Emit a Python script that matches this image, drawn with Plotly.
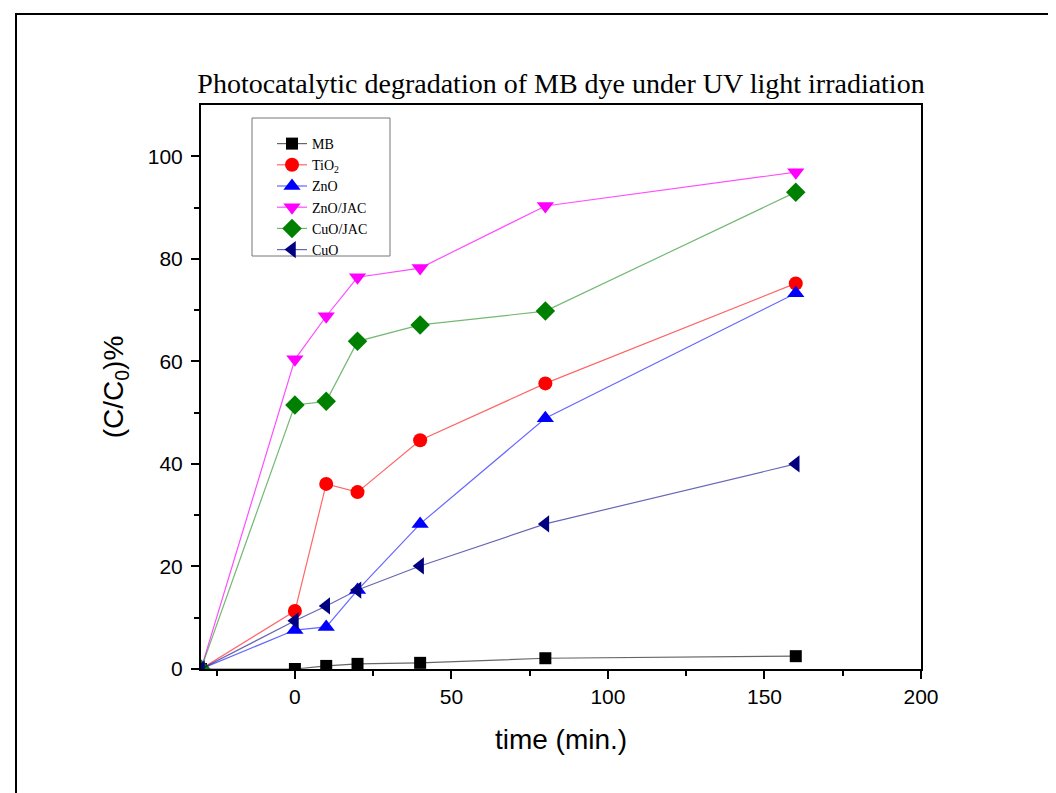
import plotly.graph_objects as go

time = [-30, 0, 10, 20, 40, 80, 160]
mb = [0, 0, 0.6, 1.0, 1.2, 2.1, 2.5]
tio2 = [0, 11.3, 36.1, 34.5, 44.6, 55.7, 75.2]
zno = [0, 7.6, 8.2, 15.4, 28.3, 48.9, 73.3]
zno_jac = [0, 60.4, 68.8, 76.4, 78.2, 90.3, 96.9]
cuo_jac = [0, 51.5, 52.2, 63.9, 67.1, 69.8, 93.0]
cuo = [0, 9.4, 12.3, 15.4, 20.1, 28.3, 40.0]

series = [
    ("MB", mb, "black", "rgba(0,0,0,0.6)", "square", 12),
    ("TiO<sub>2</sub>", tio2, "red", "rgba(255,0,0,0.6)", "circle", 14),
    ("ZnO", zno, "blue", "rgba(0,0,255,0.6)", "triangle-up", 15),
    ("ZnO/JAC", zno_jac, "magenta", "rgba(255,0,255,0.7)", "triangle-down", 15),
    ("CuO/JAC", cuo_jac, "green", "rgba(0,128,0,0.55)", "diamond", 15),
    ("CuO", cuo, "navy", "rgba(0,0,128,0.6)", "triangle-left", 15),
]

fig = go.Figure()
for name, ys, mc, lc, sym, sz in series:
    fig.add_trace(go.Scatter(
        x=time, y=ys, name=name, mode="lines+markers",
        line=dict(color=lc, width=1.2),
        marker=dict(color=mc, symbol=sym, size=sz, line=dict(width=0)),
    ))

# page pixel geometry (the plot div sits 8px in from the page corner)
OFF = 8
W, H = 1056 - OFF, 793 - OFF
L, R, T, B = 201, 921, 105, 669
px = lambda x: (x - L) / (R - L)
py = lambda y: (B - y) / (B - T)

fig.update_layout(
    width=W, height=H,
    margin=dict(l=L - OFF, r=W - (R - OFF), t=T - OFF, b=H - (B - OFF)),
    plot_bgcolor="white", paper_bgcolor="white",
    title=dict(text="Photocatalytic degradation of MB dye under UV light irradiation",
               x=0.5, xref="paper", xanchor="center", y=1 - (83 - OFF) / H, yanchor="middle",
               font=dict(family="Liberation Serif", size=28, color="black")),
    showlegend=True,
    legend=dict(x=px(272), y=py(128), xanchor="left", yanchor="top",
                bgcolor="rgba(0,0,0,0)", borderwidth=0,
                font=dict(family="Liberation Serif", size=14, color="black"),
                tracegroupgap=0, itemwidth=30),
    font=dict(family="Liberation Sans", color="black"),
)
fig.update_xaxes(
    range=[-30, 200], tickvals=[0, 50, 100, 150, 200],
    ticks="outside", ticklen=8, tickwidth=2, tickcolor="black",
    minor=dict(tickvals=[-25, 25, 75, 125, 175], ticks="outside", ticklen=5, tickwidth=2, tickcolor="black"),
    showline=True, linecolor="black", linewidth=2, mirror=True,
    showgrid=False, zeroline=False,
    tickfont=dict(family="Liberation Sans", size=21),
    title=dict(text="time (min.)", font=dict(family="Liberation Sans", size=28), standoff=22),
)
fig.update_yaxes(
    range=[0, 110], tickvals=[0, 20, 40, 60, 80, 100],
    ticks="outside", ticklen=8, tickwidth=2, tickcolor="black",
    minor=dict(tickvals=[10, 30, 50, 70, 90], ticks="outside", ticklen=5, tickwidth=2, tickcolor="black"),
    showline=True, linecolor="black", linewidth=2, mirror=True,
    showgrid=False, zeroline=False,
    tickfont=dict(family="Liberation Sans", size=21),
    ticklabelstandoff=4,
    title=dict(text="(C/C<sub>0</sub>)%", font=dict(family="Liberation Sans", size=28), standoff=16),
)

# legend frame
fig.add_shape(type="rect", xref="paper", yref="paper", x0=px(252), x1=px(390), y0=py(256), y1=py(118),
              line=dict(color="#777", width=1), fillcolor="white", layer="above")
# outer frame (top and left edges)
fig.add_shape(type="line", xref="paper", yref="paper", x0=px(15), x1=px(1070), y0=py(14), y1=py(14),
              line=dict(color="black", width=2))
fig.add_shape(type="line", xref="paper", yref="paper", x0=px(16), x1=px(16), y0=py(14), y1=py(810),
              line=dict(color="black", width=2))

fig.write_html("out.html")
